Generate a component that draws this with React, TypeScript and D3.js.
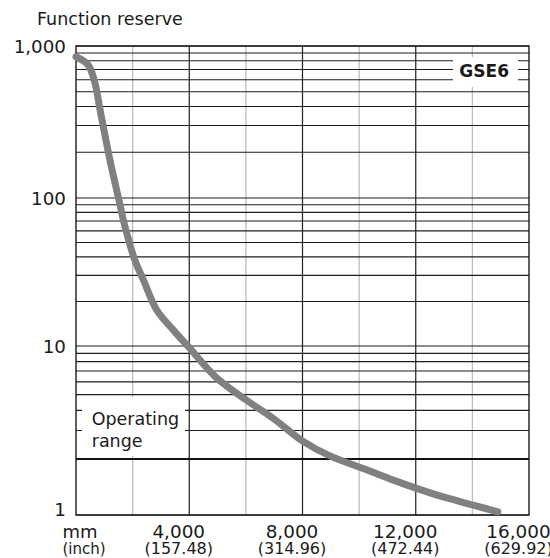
import React from "react";
import * as d3 from "d3";

// ---- data ----
const distanceMm = [0, 430, 670, 850, 1200, 1500, 1730, 2080, 2380, 2850, 3440, 3970, 4945, 6040, 7030, 7980, 8970, 10270, 11210, 12030, 12970, 14030, 14900];
const functionReserve = [850, 750, 570, 380, 177, 100, 64, 38, 28, 17.5, 12.8, 9.9, 6.4, 4.6, 3.5, 2.6, 2.09, 1.75, 1.54, 1.39, 1.25, 1.13, 1.04];

const yTickValues = [1, 10, 100, 1000];
const yTickLabels = ["1", "10", "100", "1,000"];
const yMinorValues = [2, 3, 4, 5, 6, 7, 8, 9, 20, 30, 40, 50, 60, 70, 80, 90, 200, 300, 400, 500, 600, 700, 800, 900];
const operatingThreshold = 2;

const xTickValues = [4000, 8000, 12000, 16000];
const xTickLabels = ["4,000", "8,000", "12,000", "16,000"];
const xInchLabels = ["(157.48)", "(314.96)", "(472.44)", "(629.92)"];
const xMajorGrid = [4000, 8000, 12000];
const xMinorGrid = [2000, 6000, 10000, 14000];

const seriesName = "GSE6";
const yTitle = "Function reserve";
const unitMm = "mm";
const unitInch = "(inch)";
const rangeLabel = ["Operating", "range"];

const FONT = "'DejaVu Sans', Verdana, sans-serif";

export default function App() {
  const W = 550, H = 558;
  const left = 76, right = 529, top = 46, bottom = 515;

  const x = d3.scaleLinear().domain([0, 16000]).range([left, right]);
  // log-scaled axis (drawn piecewise per decade, as in the reference grid)
  const ly = d3
    .scaleLinear()
    .domain([0, Math.log10(2), 1, 2, 3])
    .range([bottom, 459, 346, 198, top]);
  const y = (v: number) => ly(Math.log10(v));

  const pts: [number, number][] = distanceMm.map((d, i) => [x(d), y(functionReserve[i])]);
  const line = d3.line().curve(d3.curveCatmullRom.alpha(0.5))(pts) || "";

  const gridColor = "#1e1e1e";
  const textColor = "#1a1a1a";

  return (
    <svg
      width={W}
      height={H}
      style={{ position: "absolute", left: 0, top: 0, background: "#fff" }}
      fontFamily={FONT}
    >
      <rect x={0} y={0} width={W} height={H} fill="#fff" />
      {/* vertical grid */}
      {xMinorGrid.map((v) => (
        <line key={"vm" + v} x1={x(v)} x2={x(v)} y1={top} y2={bottom} stroke="#bdbdbd" strokeWidth={1.3} />
      ))}
      {xMajorGrid.map((v) => (
        <line key={"vM" + v} x1={x(v)} x2={x(v)} y1={top} y2={bottom} stroke={gridColor} strokeWidth={1.2} />
      ))}
      {/* horizontal grid */}
      {yMinorValues.map((v) => (
        <line
          key={"hm" + v}
          x1={left}
          x2={right}
          y1={y(v)}
          y2={y(v)}
          stroke={v === operatingThreshold ? "#111" : gridColor}
          strokeWidth={v === operatingThreshold ? 2 : 1.1}
        />
      ))}
      {yTickValues.map((v) => (
        <line key={"hM" + v} x1={left} x2={right} y1={y(v)} y2={y(v)} stroke={gridColor} strokeWidth={1.2} />
      ))}
      {/* frame */}
      <rect x={left} y={top} width={right - left} height={bottom - top} fill="none" stroke="#1a1a1a" strokeWidth={1.4} />

      {/* label backgrounds */}
      <rect x={453} y={57} width={65} height={30} fill="#fff" />
      <rect x={82} y={397} width={103} height={59} fill="#fff" />

      {/* curve */}
      <path d={line} fill="none" stroke="#808080" strokeWidth={7} strokeLinecap="round" strokeLinejoin="round" />

      {/* texts */}
      <text x={37} y={25} fontSize={17.5} fill={textColor}>{yTitle}</text>
      {yTickValues.map((v, i) => (
        <text
          key={"yl" + v}
          x={66}
          y={Math.min(y(v), bottom - 6)}
          fontSize={18.3}
          textAnchor="end"
          dominantBaseline="central"
          fill={textColor}
        >
          {yTickLabels[i]}
        </text>
      ))}
      <text x={62.5} y={538} fontSize={18} fill={textColor}>{unitMm}</text>
      <text x={62.5} y={554} fontSize={15} fill={textColor}>{unitInch}</text>
      {xTickValues.map((v, i) => (
        <g key={"xl" + v}>
          <text x={x(v) - 10.5} y={538} fontSize={18.4} textAnchor="middle" fill={textColor}>
            {xTickLabels[i]}
          </text>
          <text x={x(v) - 10.5} y={554} fontSize={16} textAnchor="middle" fill={textColor}>
            {xInchLabels[i]}
          </text>
        </g>
      ))}
      <text x={509} y={76.7} fontSize={17} fontWeight="bold" textAnchor="end" fill={textColor}>
        {seriesName}
      </text>
      <text x={91.7} y={425} fontSize={17.5} fill={textColor}>{rangeLabel[0]}</text>
      <text x={91.7} y={447} fontSize={17.5} fill={textColor}>{rangeLabel[1]}</text>
    </svg>
  );
}
